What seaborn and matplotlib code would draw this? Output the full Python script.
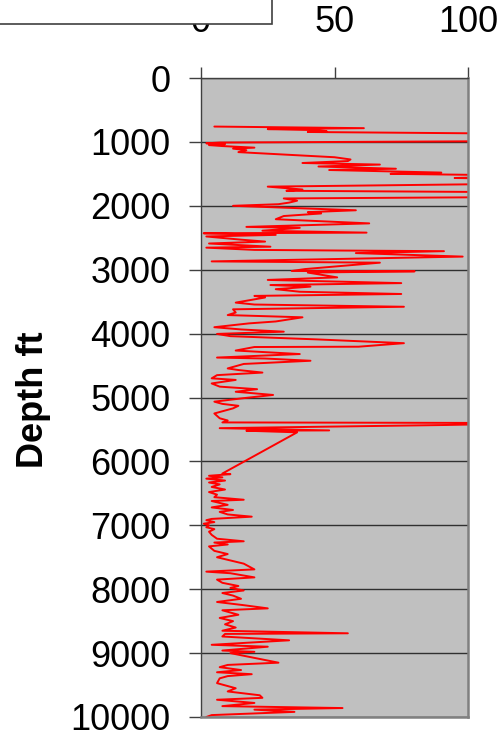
import numpy as np
import pandas as pd
import seaborn as sns
import matplotlib
matplotlib.use("Agg")
import matplotlib.pyplot as plt
from matplotlib.patches import Rectangle

# depth (ft) and log value
depth = [760, 785, 800, 815, 830, 845, 875, 985, 1010, 1022, 1035, 1050, 1065, 1090,
         1105, 1130, 1160, 1240, 1275, 1300, 1330, 1355, 1385, 1420, 1440, 1480, 1500,
         1530, 1565, 1585, 1650, 1700, 1745, 1765, 1790, 1860, 1885, 1920, 1950, 1975,
         2000, 2070, 2100, 2120, 2160, 2210, 2275, 2330, 2345, 2390, 2420, 2430, 2455,
         2480, 2530, 2560, 2590, 2640, 2655, 2690, 2700, 2710, 2740, 2795, 2870, 2890,
         2990, 3020, 3025, 3045, 3120, 3160, 3210, 3240, 3265, 3305, 3345, 3380, 3410,
         3435, 3515, 3545, 3580, 3620, 3670, 3710, 3745, 3810, 3840, 3900, 3935, 3970,
         4005, 4040, 4090, 4150, 4205, 4210, 4265, 4320, 4375, 4390, 4425, 4475, 4545,
         4570, 4610, 4650, 4700, 4725, 4780, 4830, 4870, 4910, 4960, 5010, 5065, 5100,
         5130, 5170, 5250, 5325, 5360, 5390, 5400, 5430, 5480, 5515, 5520, 5545, 6190,
         6200, 6225, 6250, 6270, 6300, 6330, 6360, 6400, 6440, 6480, 6520, 6560, 6600,
         6620, 6680, 6720, 6760, 6790, 6830, 6865, 6900, 6920, 6950, 6975, 7000, 7030,
         7060, 7100, 7150, 7210, 7250, 7270, 7300, 7330, 7400, 7450, 7500, 7550, 7600,
         7690, 7725, 7750, 7815, 7850, 7900, 7950, 7980, 8020, 8060, 8100, 8150, 8200,
         8250, 8300, 8330, 8400, 8450, 8500, 8550, 8600, 8620, 8650, 8690, 8700, 8740,
         8800, 8870, 8900, 8960, 8980, 9000, 9150, 9185, 9220, 9265, 9300, 9330, 9360,
         9395, 9470, 9550, 9600, 9660, 9700, 9730, 9780, 9830, 9860, 9885, 9920, 9970,
         10000]
gr = [5, 61, 25, 42, 47, 40, 130, 130, 7, 2, 9, 3, 8, 20,
      12, 17, 14, 50, 56, 55, 38, 67, 44, 73, 48, 90, 71,
      130, 95, 130, 130, 25, 38, 32, 130, 130, 31, 36, 33, 29,
      12, 58, 40, 45, 31, 28, 63, 17, 37, 23, 62, 1, 28,
      2, 15, 24, 3, 26, 2, 20, 52, 91, 58, 98, 4, 67,
      39, 34, 80, 40, 51, 25, 75, 26, 41, 28, 37, 75, 20,
      24, 13, 20, 76, 12, 13, 10, 38, 28, 18, 5, 15, 31,
      6, 11, 43, 76, 59, 20, 13, 37, 6, 24, 41, 16, 10,
      14, 23, 6, 4, 13, 4, 7, 21, 13, 27, 16, 5, 8,
      14, 12, 5, 7, 10, 8, 130, 92, 7, 48, 17, 36, 8,
      11, 3, 8, 2, 9, 3, 7, 4, 9, 3, 6, 5, 16,
      4, 10, 4, 12, 7, 10, 19, 4, 2, 5, 1, 3, 2,
      5, 3, 4, 6, 16, 5, 10, 3, 5, 10, 6, 11, 16,
      20, 2, 11, 20, 6, 8, 14, 11, 16, 8, 12, 15, 6,
      16, 25, 8, 14, 7, 12, 9, 13, 11, 8, 55, 9, 8,
      33, 4, 25, 8, 20, 11, 29, 10, 7, 15, 6, 19, 10,
      7, 6, 13, 10, 22, 23, 6, 20, 8, 53, 20, 35, 4,
      2]

x_ticks = [0, 50, 100]
y_ticks = list(range(0, 10001, 1000))

df = pd.DataFrame({"depth": depth, "gr": gr})

sns.set_style("white")
plt.rcParams["font.family"] = ["Liberation Sans", "DejaVu Sans"]
plt.rcParams["text.color"] = "black"

fig = plt.figure(figsize=(5.01, 7.38), dpi=100)
ax = fig.add_axes([201 / 501, 1 - 717 / 738, 267 / 501, 639 / 738])
ax.set_facecolor("#c0c0c0")

sns.lineplot(data=df, x="gr", y="depth", sort=False, estimator=None,
             color="red", lw=1.4, ax=ax)

ax.set_xlim(0, 100)
ax.set_ylim(10000, 0)
ax.xaxis.tick_top()
ax.set_xticks(x_ticks)
ax.set_yticks(y_ticks)
ax.yaxis.grid(True, color="#303030", lw=1)
ax.xaxis.grid(False)
ax.set_axisbelow(True)

for s in ["left", "top"]:
    ax.spines[s].set_color("#404040")
    ax.spines[s].set_linewidth(1)
for s in ["right", "bottom"]:
    ax.spines[s].set_color("#808080")
    ax.spines[s].set_linewidth(1.8)

ax.tick_params(axis="x", top=True, bottom=False, direction="out", length=8,
               width=1, color="#404040", labelcolor="black", labelsize=26, pad=19.5)
ax.tick_params(axis="y", left=True, direction="out", length=9, width=1,
               color="#404040", labelcolor="black", labelsize=26, pad=13)

ax.set_xlabel("")
ax.set_ylabel("Depth ft", fontsize=26, fontweight="bold", color="black")
ax.yaxis.set_label_coords(-0.56, 0.496)

# cut-off legend box at the top left
box = Rectangle((-0.02, 1 - 24 / 738), (272 + 10) / 501, 0.1,
                transform=fig.transFigure, facecolor="white",
                edgecolor="#404040", lw=1.2, zorder=10, clip_on=False)
fig.add_artist(box)

fig.savefig("out.png", dpi=100)
